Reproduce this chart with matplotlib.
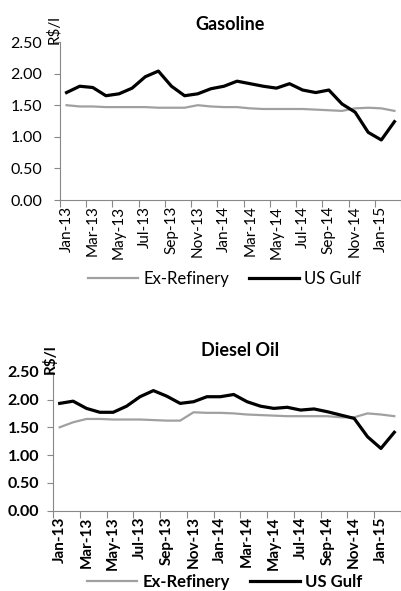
import matplotlib.pyplot as plt
import numpy as np

plt.rcParams['font.family'] = ['Lato', 'DejaVu Sans']

months = ['Jan-13', 'Feb-13', 'Mar-13', 'Apr-13', 'May-13', 'Jun-13', 'Jul-13', 'Aug-13',
          'Sep-13', 'Oct-13', 'Nov-13', 'Dec-13', 'Jan-14', 'Feb-14', 'Mar-14', 'Apr-14',
          'May-14', 'Jun-14', 'Jul-14', 'Aug-14', 'Sep-14', 'Oct-14', 'Nov-14', 'Dec-14',
          'Jan-15', 'Feb-15']

gas_refinery = [1.50, 1.48, 1.48, 1.47, 1.47, 1.47, 1.47, 1.46, 1.46, 1.46, 1.50, 1.48, 1.47,
                1.47, 1.45, 1.44, 1.44, 1.44, 1.44, 1.43, 1.42, 1.41, 1.45, 1.46, 1.45, 1.41]
gas_gulf = [1.70, 1.80, 1.78, 1.65, 1.68, 1.77, 1.95, 2.04, 1.80, 1.65, 1.68, 1.76, 1.80,
            1.88, 1.84, 1.80, 1.77, 1.84, 1.74, 1.70, 1.74, 1.52, 1.39, 1.07, 0.95, 1.24]

dsl_refinery = [1.50, 1.59, 1.65, 1.65, 1.64, 1.64, 1.64, 1.63, 1.62, 1.62, 1.77, 1.76, 1.76,
                1.75, 1.73, 1.72, 1.71, 1.70, 1.70, 1.70, 1.70, 1.68, 1.68, 1.75, 1.73, 1.70]
dsl_gulf = [1.93, 1.97, 1.84, 1.77, 1.77, 1.88, 2.05, 2.16, 2.06, 1.93, 1.96, 2.05, 2.05,
            2.09, 1.96, 1.88, 1.84, 1.86, 1.81, 1.83, 1.78, 1.72, 1.66, 1.33, 1.12, 1.41]

yticks = [0.0, 0.5, 1.0, 1.5, 2.0, 2.5]


def draw(ax, title, refinery, gulf, bold, title_xy, ylab_xy, leg_y, ypad):
    weight = 'bold' if bold else 'normal'
    x = np.arange(len(months))
    ax.plot(x, refinery, color='#a0a0a0', lw=1.6, label='Ex-Refinery')
    ax.plot(x, gulf, color='black', lw=2.3, label='US Gulf')
    ax.set_xlim(-0.5, len(months) - 0.5)
    ax.set_ylim(0, 2.5)
    ax.set_yticks(yticks)
    ax.set_yticklabels(['%.2f' % v for v in yticks], fontsize=11.5, fontweight=weight)
    # tick marks between categories, labels every second month
    ax.set_xticks(np.arange(-0.5, len(months), 2))
    ax.set_xticklabels([])
    ax.set_xticks(x[::2], minor=True)
    ax.set_xticklabels(months[::2], minor=True, rotation=90, fontsize=11, fontweight=weight)
    ax.tick_params(axis='x', which='minor', length=0, pad=4)
    ax.tick_params(axis='x', which='major', length=5, color='#888888')
    ax.tick_params(axis='y', length=4, color='#888888', pad=ypad)
    for s in ['top', 'right']:
        ax.spines[s].set_visible(False)
    for s in ['left', 'bottom']:
        ax.spines[s].set_color('#888888')
    fig.text(title_xy[0], title_xy[1], title, ha='center', va='center',
             fontsize=13, fontweight='bold')
    fig.text(ylab_xy[0], ylab_xy[1], 'R$/l', rotation=90, ha='center', va='center',
             fontsize=11, fontweight=weight)
    fig.legend(*ax.get_legend_handles_labels(), loc='center', ncol=2,
               bbox_to_anchor=(0.56, leg_y), frameon=False,
               handlelength=3.0, handletextpad=0.3, columnspacing=1.2,
               prop={'weight': weight, 'size': 12})


fig = plt.figure(figsize=(4.01, 5.91), dpi=100)
ax1 = fig.add_axes([60 / 401, 1 - 200 / 591, 341 / 401, 158 / 591])
ax2 = fig.add_axes([53 / 401, 1 - 510.7 / 591, 348 / 401, 139 / 591])

draw(ax1, 'Gasoline', gas_refinery, gas_gulf, False,
     (230 / 401, 1 - 25 / 591), (54 / 401, 1 - 30 / 591), 1 - 279 / 591, 9)
draw(ax2, 'Diesel Oil', dsl_refinery, dsl_gulf, True,
     (240 / 401, 1 - 350 / 591), (50 / 401, 1 - 359 / 591), 1 - 582 / 591, 6)

fig.savefig('out.png', dpi=100)
